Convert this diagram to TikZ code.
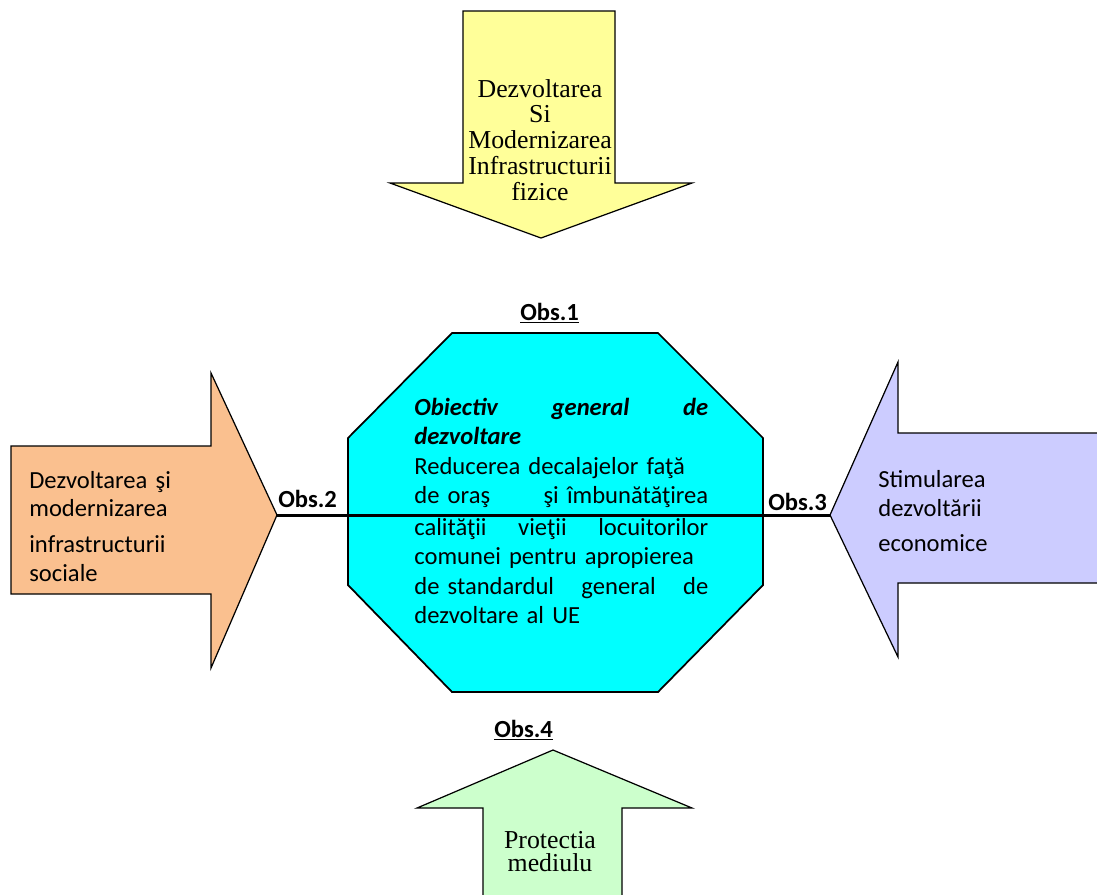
\documentclass[tikz,border=0pt]{standalone}
\usepackage{fontspec}
\setmainfont{Liberation Serif}
\newfontfamily\cand{Carlito}
\definecolor{yelA}{HTML}{FFFF99}
\definecolor{peachA}{HTML}{FAC08F}
\definecolor{lavA}{HTML}{CCCCFF}
\definecolor{mintA}{HTML}{CCFFCC}
\definecolor{cyanA}{HTML}{00FFFF}
\begin{document}
\begin{tikzpicture}[x=0.02cm,y=-0.02cm,
  outl/.style={draw=black, line width=0.7pt, line join=miter},
  sertext/.style={font=\fontsize{14.7}{14.74}\selectfont, inner sep=0, anchor=base, text width=4cm, align=center},
  santext/.style={font=\cand\fontsize{14}{16.8}\selectfont, inner sep=0, anchor=base west, align=left},
  obslbl/.style={font=\cand\bfseries\fontsize{14}{16.8}\selectfont, inner sep=0, anchor=base west}]
\useasboundingbox (0,0) rectangle (1097,894);
\clip (0,0) rectangle (1097,894);

% top arrow
\draw[outl, fill=yelA] (463,11) -- (615,11) -- (615,183) -- (692,183) -- (541,238) coordinate (ttip) -- (390,183) -- (463,183) -- cycle;
\node[sertext] (ttext) at (540,97) {Dezvoltarea\\Si\\Modernizarea\\Infrastructurii\\fizice};

% left arrow
\draw[outl, fill=peachA] (11,446) -- (211,446) -- (211,373) -- (277,515) coordinate (ltip) -- (211,668) -- (211,594) -- (11,594) -- cycle;
\node[santext, font=\cand\fontsize{14}{16.4}\selectfont, text width=5cm] (ltext) at (29,488) {Dezvoltarea şi\\modernizarea\\[4pt]infrastructurii\\sociale};

% right arrow
\draw[outl, fill=lavA] (1110,433) -- (898,433) -- (898,362) -- (830,515) coordinate (rtip) -- (898,657) -- (898,583) -- (1110,583) -- cycle;
\node[santext, font=\cand\fontsize{14}{17}\selectfont, text width=4cm] (rtext) at (878,487) {Stimularea\\dezvoltării\\[2.8pt]economice};

% bottom arrow
\draw[outl, fill=mintA] (483,910) -- (483,808) -- (417,808) -- (553,750) coordinate (btip) -- (692,808) -- (622,808) -- (622,910) -- cycle;
\node[sertext, font=\fontsize{14.7}{13.2}\selectfont] (btext) at (550,848) {Protectia\\mediulu};

% octagon
\draw[draw=black, line width=1pt, fill=cyanA] (452,333) -- (658,333) -- (763,438) -- (763,585) -- (658,692) -- (452,692) -- (348,585) -- (348,438) -- cycle;

% connector line
\draw[line width=1.7pt] (ltip) -- (rtip);

% octagon text
\node[santext, text width=5.88cm] (otext) at (414,415) {%
{\bfseries\itshape Obiectiv\hfill general\hfill de}\\
{\bfseries\itshape dezvoltare}\\
Reducerea decalajelor faţă\\
de oraş\hfill şi îmbunătăţirea\\[1.2pt]
calităţii\hfill vieţii\hfill locuitorilor\\
comunei pentru apropierea\\
de standardul\hfill general\hfill de\\
dezvoltare al UE};

% labels
\node[obslbl] (obs1) at (520,320) {\underline{Obs.1}};
\node[obslbl] (obs2) at (278,507) {Obs.2};
\node[obslbl] (obs3) at (768,510) {Obs.3};
\node[obslbl] (obs4) at (494,737) {\underline{Obs.4}};
\end{tikzpicture}
\end{document}
